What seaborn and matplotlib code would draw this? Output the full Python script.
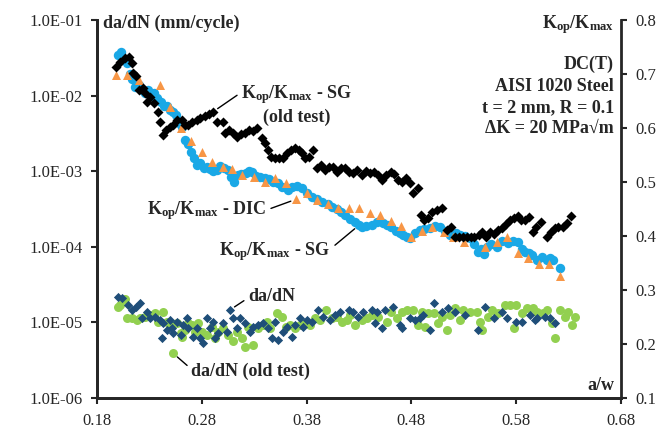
import numpy as np
import pandas as pd
import seaborn as sns
import matplotlib.pyplot as plt
from matplotlib.ticker import NullLocator, FuncFormatter

# Kop/Kmax from strain gauge (current test)
sg_aw = [0.200, 0.203, 0.206, 0.209, 0.212, 0.214, 0.217, 0.220, 0.223, 0.226,
         0.229, 0.232, 0.235, 0.238, 0.241, 0.244, 0.247, 0.250, 0.253, 0.256,
         0.259, 0.261, 0.264, 0.267, 0.270, 0.273, 0.276, 0.279, 0.282, 0.285,
         0.288, 0.291, 0.295, 0.298, 0.301, 0.305, 0.308, 0.311, 0.315, 0.318,
         0.322, 0.325, 0.328, 0.332, 0.336, 0.340, 0.344, 0.348, 0.353, 0.357,
         0.362, 0.366, 0.371, 0.376, 0.380, 0.385, 0.390, 0.395, 0.400, 0.404,
         0.409, 0.413, 0.417, 0.421, 0.426, 0.430, 0.433, 0.437, 0.442, 0.447,
         0.453, 0.457, 0.460, 0.465, 0.469, 0.472, 0.476, 0.479, 0.483, 0.488,
         0.492, 0.498, 0.502, 0.507, 0.512, 0.517, 0.522, 0.526, 0.531, 0.536,
         0.540, 0.543, 0.546, 0.549, 0.552, 0.556, 0.561, 0.566, 0.572, 0.577,
         0.581, 0.585, 0.588, 0.592, 0.595, 0.600, 0.604, 0.609, 0.612, 0.615, 0.621]
sg_kop = [0.735, 0.740, 0.728, 0.720, 0.700, 0.690, 0.676, 0.680, 0.670, 0.665,
          0.670, 0.660, 0.665, 0.655, 0.648, 0.640, 0.640, 0.633, 0.630, 0.624,
          0.610, 0.602, 0.578, 0.570, 0.556, 0.545, 0.531, 0.535, 0.526, 0.528,
          0.524, 0.520, 0.522, 0.530, 0.525, 0.522, 0.510, 0.500, 0.513, 0.515,
          0.517, 0.520, 0.519, 0.512, 0.510, 0.507, 0.505, 0.500, 0.498, 0.490,
          0.485, 0.490, 0.492, 0.489, 0.480, 0.472, 0.468, 0.463, 0.460, 0.454,
          0.450, 0.445, 0.439, 0.432, 0.426, 0.420, 0.417, 0.418, 0.420, 0.425,
          0.424, 0.420, 0.417, 0.410, 0.405, 0.402, 0.398, 0.396, 0.405, 0.411,
          0.413, 0.415, 0.418, 0.417, 0.410, 0.402, 0.405, 0.402, 0.400, 0.396,
          0.385, 0.370, 0.375, 0.367, 0.380, 0.385, 0.380, 0.390, 0.387, 0.390,
          0.389, 0.375, 0.370, 0.368, 0.365, 0.356, 0.361, 0.356, 0.360, 0.356, 0.341]

# Kop/Kmax from DIC
dic_aw = [0.199, 0.209, 0.220, 0.240, 0.250, 0.260, 0.270, 0.280, 0.290, 0.300,
          0.309, 0.319, 0.330, 0.340, 0.350, 0.360, 0.370, 0.380, 0.390, 0.400,
          0.410, 0.420, 0.430, 0.440, 0.450, 0.460, 0.470, 0.480, 0.490, 0.500,
          0.511, 0.520, 0.530, 0.550, 0.561, 0.571, 0.581, 0.591, 0.601, 0.611, 0.621]
dic_kop = [0.698, 0.698, 0.689, 0.680, 0.639, 0.600, 0.576, 0.556, 0.537, 0.528,
           0.524, 0.513, 0.509, 0.500, 0.507, 0.498, 0.468, 0.479, 0.467, 0.459,
           0.452, 0.452, 0.452, 0.443, 0.439, 0.428, 0.419, 0.398, 0.409, 0.417,
           0.407, 0.398, 0.389, 0.380, 0.389, 0.398, 0.369, 0.359, 0.348, 0.348, 0.326]

# Kop/Kmax from strain gauge (old test)
old_aw = [0.199, 0.202, 0.207, 0.211, 0.214, 0.215, 0.218, 0.220, 0.224, 0.226,
          0.228, 0.231, 0.235, 0.239, 0.240, 0.243, 0.246, 0.250, 0.253, 0.257,
          0.261, 0.264, 0.267, 0.271, 0.276, 0.279, 0.283, 0.287, 0.291, 0.295,
          0.300, 0.302, 0.306, 0.310, 0.314, 0.318, 0.321, 0.325, 0.329, 0.333,
          0.338, 0.340, 0.343, 0.346, 0.350, 0.354, 0.358, 0.361, 0.365, 0.369,
          0.373, 0.376, 0.379, 0.382, 0.386, 0.390, 0.394, 0.398, 0.401, 0.405,
          0.409, 0.413, 0.417, 0.420, 0.424, 0.428, 0.433, 0.437, 0.440, 0.444,
          0.448, 0.452, 0.456, 0.460, 0.463, 0.467, 0.471, 0.475, 0.479, 0.481,
          0.486, 0.489, 0.492, 0.496, 0.500, 0.504, 0.509, 0.514, 0.518, 0.521,
          0.525, 0.529, 0.533, 0.537, 0.540, 0.544, 0.547, 0.551, 0.555, 0.559,
          0.562, 0.566, 0.570, 0.574, 0.578, 0.581, 0.584, 0.588, 0.592, 0.596,
          0.599, 0.603, 0.609, 0.613, 0.617, 0.620, 0.624, 0.628, 0.632]
old_kop = [0.713, 0.722, 0.730, 0.731, 0.720, 0.702, 0.696, 0.670, 0.674, 0.665,
           0.648, 0.657, 0.646, 0.630, 0.611, 0.587, 0.596, 0.602, 0.606, 0.615,
           0.615, 0.606, 0.606, 0.611, 0.615, 0.619, 0.622, 0.626, 0.630, 0.611,
           0.611, 0.591, 0.596, 0.591, 0.583, 0.589, 0.591, 0.596, 0.594, 0.600,
           0.581, 0.572, 0.559, 0.546, 0.544, 0.544, 0.544, 0.554, 0.559, 0.563,
           0.559, 0.554, 0.544, 0.546, 0.559, 0.526, 0.531, 0.522, 0.528, 0.528,
           0.519, 0.526, 0.526, 0.519, 0.517, 0.522, 0.513, 0.520, 0.517, 0.519,
           0.513, 0.504, 0.513, 0.519, 0.515, 0.504, 0.500, 0.507, 0.498, 0.480,
           0.489, 0.439, 0.430, 0.433, 0.444, 0.448, 0.452, 0.411, 0.417, 0.398,
           0.398, 0.398, 0.398, 0.398, 0.398, 0.402, 0.407, 0.398, 0.407, 0.404,
           0.411, 0.415, 0.422, 0.430, 0.433, 0.437, 0.430, 0.430, 0.435, 0.407,
           0.417, 0.426, 0.398, 0.407, 0.415, 0.417, 0.417, 0.424, 0.437]

# da/dN (current test), in units of 1e-5 mm/cycle
dadn_aw = [0.200, 0.204, 0.210, 0.214, 0.218, 0.221, 0.223, 0.228, 0.231, 0.236,
           0.240, 0.242, 0.243, 0.247, 0.250, 0.252, 0.253, 0.257, 0.260, 0.262,
           0.266, 0.267, 0.272, 0.276, 0.279, 0.281, 0.285, 0.288, 0.291, 0.293,
           0.296, 0.300, 0.304, 0.307, 0.310, 0.314, 0.317, 0.321, 0.326, 0.329,
           0.334, 0.339, 0.343, 0.347, 0.350, 0.353, 0.358, 0.361, 0.366, 0.369,
           0.374, 0.377, 0.380, 0.385, 0.391, 0.396, 0.402, 0.407, 0.412, 0.420,
           0.424, 0.429, 0.434, 0.442, 0.445, 0.447, 0.452, 0.455, 0.462, 0.469,
           0.471, 0.479, 0.483, 0.488, 0.491, 0.498, 0.501, 0.509, 0.515, 0.521,
           0.531, 0.543, 0.550, 0.559, 0.566, 0.571, 0.580, 0.585, 0.593, 0.598,
           0.600, 0.607, 0.612, 0.617]
dadn_e5 = [2.15, 2.10, 1.70, 1.46, 1.60, 1.80, 1.14, 1.37, 1.14, 1.18,
           1.08, 0.62, 0.98, 0.79, 1.08, 0.84, 0.72, 1.01, 0.68, 0.92,
           1.14, 0.84, 0.64, 0.84, 0.62, 0.53, 1.14, 0.84, 1.01, 0.62,
           0.72, 0.98, 0.75, 1.46, 1.14, 0.84, 1.14, 0.98, 0.75, 0.87,
           0.92, 0.98, 0.84, 0.62, 1.01, 0.58, 0.75, 0.87, 0.64, 0.92,
           1.14, 0.87, 1.08, 1.01, 1.46, 1.18, 1.08, 1.25, 1.37, 1.46,
           1.37, 1.18, 1.37, 1.46, 0.98, 1.37, 0.84, 1.46, 1.60, 0.92,
           0.84, 1.14, 1.08, 1.14, 1.25, 0.79, 1.80, 1.37, 1.55, 1.37,
           1.25, 0.79, 1.60, 1.14, 1.37, 1.14, 1.01, 1.01, 1.25, 1.08,
           1.14, 1.18, 1.14, 0.98]

# da/dN (old test), in units of 1e-5 mm/cycle
old_dadn_aw = [0.200, 0.202, 0.207, 0.209, 0.214, 0.219, 0.221, 0.226, 0.231, 0.236,
               0.239, 0.243, 0.247, 0.250, 0.253, 0.257, 0.260, 0.261, 0.264, 0.267,
               0.271, 0.274, 0.277, 0.280, 0.285, 0.290, 0.293, 0.296, 0.300, 0.305,
               0.310, 0.314, 0.319, 0.321, 0.324, 0.329, 0.334, 0.339, 0.342, 0.345,
               0.352, 0.357, 0.360, 0.364, 0.369, 0.374, 0.379, 0.383, 0.388, 0.393,
               0.399, 0.404, 0.409, 0.414, 0.419, 0.421, 0.426, 0.433, 0.438, 0.442,
               0.448, 0.457, 0.460, 0.466, 0.471, 0.476, 0.481, 0.486, 0.490, 0.493,
               0.496, 0.501, 0.505, 0.509, 0.514, 0.517, 0.521, 0.526, 0.529, 0.536,
               0.542, 0.545, 0.547, 0.553, 0.557, 0.562, 0.569, 0.574, 0.578, 0.580,
               0.585, 0.590, 0.596, 0.600, 0.605, 0.609, 0.614, 0.617, 0.621, 0.626,
               0.629, 0.633, 0.636]
old_dadn_e5 = [1.60, 1.70, 2.04, 1.14, 1.14, 1.08, 1.14, 1.18, 1.25, 1.33,
               1.01, 1.37, 1.01, 0.92, 0.39, 0.98, 0.72, 0.64, 0.79, 0.98,
               0.92, 0.75, 0.98, 0.75, 0.68, 0.87, 0.62, 0.75, 0.84, 0.68,
               0.57, 0.75, 0.62, 0.47, 0.87, 0.50, 0.84, 0.92, 1.01, 0.84,
               1.33, 1.18, 0.87, 0.92, 0.84, 0.92, 0.98, 0.92, 1.14, 1.08,
               1.46, 1.14, 1.18, 1.01, 1.08, 1.25, 0.92, 1.08, 1.14, 1.25,
               1.18, 1.01, 1.37, 1.14, 1.37, 1.46, 1.46, 0.92, 1.37, 0.87,
               1.33, 1.33, 0.98, 1.18, 0.79, 1.25, 1.55, 1.08, 1.46, 1.37,
               1.37, 1.01, 0.79, 1.18, 1.46, 1.33, 1.70, 1.70, 0.84, 1.70,
               1.33, 1.55, 1.55, 1.37, 1.33, 1.46, 0.98, 0.62, 1.46, 1.18,
               1.37, 0.92, 1.18]

x_ticks = [0.18, 0.28, 0.38, 0.48, 0.58, 0.68]
left_ticks = [1e-6, 1e-5, 1e-4, 1e-3, 1e-2, 1e-1]
right_ticks = [0.1, 0.2, 0.3, 0.4, 0.5, 0.6, 0.7, 0.8]

sns.set_style('ticks')
plt.rcParams['font.family'] = ['Liberation Serif', 'DejaVu Serif']
plt.rcParams['mathtext.fontset'] = 'custom'
plt.rcParams['mathtext.rm'] = 'Liberation Serif'
plt.rcParams['mathtext.bf'] = 'Liberation Serif:bold'
plt.rcParams['mathtext.it'] = 'Liberation Serif:italic'

df_sg = pd.DataFrame({'aw': sg_aw, 'kop': sg_kop})
df_dic = pd.DataFrame({'aw': dic_aw, 'kop': dic_kop})
df_old = pd.DataFrame({'aw': old_aw, 'kop': old_kop})
df_dadn = pd.DataFrame({'aw': dadn_aw, 'rate': np.array(dadn_e5) * 1e-5})
df_old_dadn = pd.DataFrame({'aw': old_dadn_aw, 'rate': np.array(old_dadn_e5) * 1e-5})

fig, ax = plt.subplots(figsize=(6.62, 4.28), dpi=100)
fig.subplots_adjust(left=0.1458, right=0.9388, bottom=0.0701, top=0.9533)
ax2 = ax.twinx()

# da/dN on the left (log) axis
sns.scatterplot(data=df_old_dadn, x='aw', y='rate', ax=ax, marker='o', s=42,
                color='#92D050', linewidth=0, zorder=3)
sns.scatterplot(data=df_dadn, x='aw', y='rate', ax=ax, marker='D', s=22,
                color='#1F4E79', linewidth=0, zorder=4)

# Kop/Kmax on the right axis
sns.scatterplot(data=df_sg, x='aw', y='kop', ax=ax2, marker='o', s=46,
                color='#1AA8E6', linewidth=0, zorder=3)
sns.scatterplot(data=df_dic, x='aw', y='kop', ax=ax2, marker='^', s=42,
                color='#F79646', linewidth=0, zorder=4)
sns.scatterplot(data=df_old, x='aw', y='kop', ax=ax2, marker='D', s=26,
                color='black', linewidth=0, zorder=5)

ax.set_yscale('log')
ax.set_ylim(1e-6, 1e-1)
ax.set_yticks(left_ticks)
ax.yaxis.set_minor_locator(NullLocator())
ax.yaxis.set_major_formatter(FuncFormatter(lambda v, p: f'{v:.1E}'))
ax.set_xlim(0.18, 0.68)
ax.set_xticks(x_ticks)
ax.set_xticklabels([f'{t:.2f}' for t in x_ticks])
ax2.set_ylim(0.1, 0.8)
ax2.set_yticks(right_ticks)
ax2.set_yticklabels([f'{t:.1f}' for t in right_ticks])
for a in (ax, ax2):
    a.set_xlabel('')
    a.set_ylabel('')
    a.spines['top'].set_visible(False)
    for side in ('left', 'right', 'bottom'):
        a.spines[side].set_linewidth(2)
ax.spines['right'].set_visible(False)
ax.tick_params(axis='both', which='major', labelsize=12, width=1.5, length=4,
               direction='out', pad=6)
ax.tick_params(axis='x', pad=7)
ax2.tick_params(axis='y', labelsize=12, width=1.5, length=4, direction='out', pad=6)

bold = dict(fontsize=13, fontweight='bold')
kk = r'$\mathbf{K_{op}/K_{max}}$'
ax.text(0.012, 0.992, 'da/dN (mm/cycle)', transform=ax.transAxes,
        ha='left', va='center', **bold)
ax.text(0.9857, 0.987, kk, transform=ax.transAxes, ha='right', va='center', **bold)
ax.text(0.9857, 0.905, 'DC(T)\nAISI 1020 Steel\nt = 2 mm, R = 0.1\nΔK = 20 MPa√m',
        transform=ax.transAxes, ha='right', va='top', linespacing=1.33, **bold)
ax.text(0.9857, 0.034, 'a/w', transform=ax.transAxes, ha='right', va='center', **bold)

line = dict(arrowstyle='-', color='black', lw=1, shrinkA=1, shrinkB=4)
ax2.annotate(kk + ' - SG\n(old test)', xy=(0.291, 0.630), xytext=(0.371, 0.644),
             ha='center', va='center', multialignment='center',
             arrowprops=dict(relpos=(0, 0.78), **line), **bold)
ax2.annotate(kk + ' - DIC', xy=(0.370, 0.468), xytext=(0.285, 0.448),
             ha='center', va='center',
             arrowprops=dict(relpos=(1, 0.5), **line), **bold)
ax2.annotate(kk + ' - SG', xy=(0.430, 0.420), xytext=(0.350, 0.372),
             ha='center', va='center',
             arrowprops=dict(relpos=(1, 0.6), **line), **bold)
ax.annotate('da/dN', xy=(0.307, 1.46e-5), xytext=(0.347, 2.23e-5),
            ha='center', va='center',
            arrowprops=dict(relpos=(0, 0.4), **line), **bold)
ax.annotate('da/dN (old test)', xy=(0.253, 0.39e-5), xytext=(0.327, 0.228e-5),
            ha='center', va='center',
            arrowprops=dict(relpos=(0, 0.6), **line), **bold)

fig.savefig('out.png', dpi=100)
